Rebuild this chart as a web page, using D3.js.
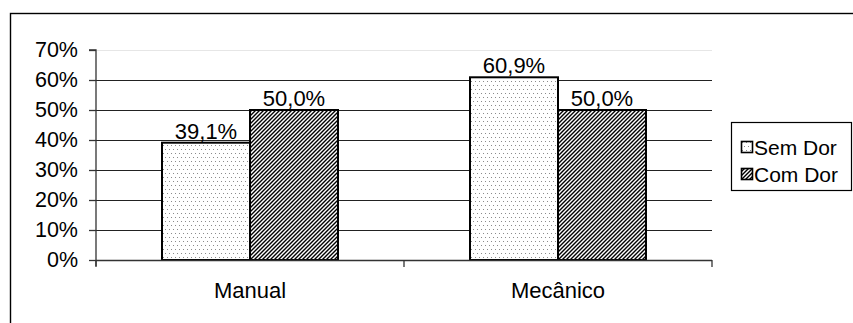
<!DOCTYPE html>
<html>
<head>
<meta charset="utf-8">
<script src="https://cdn.jsdelivr.net/npm/d3@7"></script>
<style>
  html, body { margin: 0; padding: 0; background: #fff; }
  svg { display: block; font-family: "Liberation Sans", Arial, sans-serif; }
</style>
</head>
<body>
<svg id="chart" width="853" height="323"></svg>
<script>
// Share of cases by method, split by pain outcome
const categories = ["Manual", "Mecânico"];
const seriesNames = ["Sem Dor", "Com Dor"];
const semDor = [39.1, 60.9];
const comDor = [50.0, 50.0];
const yTicks = [0, 10, 20, 30, 40, 50, 60, 70];

const seriesValues = [semDor, comDor];
const fmt = v => v.toFixed(1).replace(".", ",") + "%";

const svg = d3.select("#chart");
const defs = svg.append("defs");

// Dotted fill
const dots = defs.append("pattern")
  .attr("id", "pat-dots").attr("patternUnits", "userSpaceOnUse")
  .attr("width", 4).attr("height", 8);
dots.append("rect").attr("width", 4).attr("height", 8).attr("fill", "#fff");
dots.append("rect").attr("x", 1).attr("y", 1).attr("width", 1).attr("height", 1).attr("fill", "#8a8a8a");
dots.append("rect").attr("x", 3).attr("y", 5).attr("width", 1).attr("height", 1).attr("fill", "#8a8a8a");

// Diagonal hatch fill
const hatch = defs.append("pattern")
  .attr("id", "pat-hatch").attr("patternUnits", "userSpaceOnUse")
  .attr("width", 4).attr("height", 4);
hatch.append("rect").attr("width", 4).attr("height", 4).attr("fill", "#fff");
hatch.append("path")
  .attr("d", "M-1,1 l2,-2 M0,4 l4,-4 M3,5 l2,-2")
  .attr("stroke", "#000").attr("stroke-width", 1.4);

const fills = ["url(#pat-dots)", "url(#pat-hatch)"];

// Outer frame
svg.append("rect")
  .attr("x", 10.5).attr("y", 13.5).attr("width", 900).attr("height", 400)
  .attr("fill", "none").attr("stroke", "#000").attr("stroke-width", 1.4);

const plot = { left: 96, right: 712, top: 50, bottom: 260 };

const y = d3.scaleLinear().domain([0, 70]).range([plot.bottom, plot.top]);
const x0 = d3.scaleBand().domain(categories)
  .range([plot.left, plot.right])
  .paddingInner(0.4286).paddingOuter(0.2143);
const x1 = d3.scaleBand().domain(seriesNames).range([0, x0.bandwidth()]);

// Gridlines
svg.append("g").selectAll("line")
  .data(yTicks.filter(t => t > 0))
  .join("line")
  .attr("x1", plot.left).attr("x2", plot.right)
  .attr("y1", d => Math.round(y(d)) + 0.5).attr("y2", d => Math.round(y(d)) + 0.5)
  .attr("stroke", d => d === 70 ? "#e6e6e6" : "#222")
  .attr("stroke-width", 1.2);

// Bars
const groups = svg.append("g").selectAll("g")
  .data(categories)
  .join("g")
  .attr("transform", d => `translate(${x0(d)},0)`);

groups.selectAll("rect")
  .data((c, i) => seriesNames.map((s, k) => ({ s, k, v: seriesValues[k][i] })))
  .join("rect")
  .attr("x", d => x1(d.s))
  .attr("y", d => y(d.v))
  .attr("width", x1.bandwidth())
  .attr("height", d => y(0) - y(d.v))
  .attr("fill", d => fills[d.k])
  .attr("stroke", "#000").attr("stroke-width", 2);

groups.selectAll("text")
  .data((c, i) => seriesNames.map((s, k) => ({ s, k, v: seriesValues[k][i] })))
  .join("text")
  .attr("x", d => x1(d.s) + x1.bandwidth() / 2)
  .attr("y", d => y(d.v) - 4)
  .attr("text-anchor", "middle")
  .attr("font-size", 22).attr("fill", "#000")
  .text(d => fmt(d.v));

// Y axis
const yAxis = svg.append("g")
  .attr("transform", `translate(${plot.left},0)`)
  .call(d3.axisLeft(y).tickValues(yTicks).tickSize(7).tickPadding(11)
    .tickFormat(d => d + "%"));
yAxis.select(".domain").attr("stroke", "#333").attr("stroke-width", 1.3)
  .attr("d", `M-7,${y(70)}H0V${plot.bottom + 6}`);
yAxis.selectAll(".tick line").attr("stroke", "#333").attr("stroke-width", 1.3);
yAxis.selectAll(".tick text").attr("font-size", 21.5).attr("fill", "#000")
  .attr("font-family", "Liberation Sans, Arial, sans-serif");

// X axis
const xAxis = svg.append("g")
  .attr("transform", `translate(0,${plot.bottom})`);
xAxis.append("line")
  .attr("x1", plot.left).attr("x2", plot.right)
  .attr("y1", 0.5).attr("y2", 0.5)
  .attr("stroke", "#333").attr("stroke-width", 1.3);
const bounds = [plot.left, (plot.left + plot.right) / 2, plot.right];
xAxis.selectAll("line.tk").data(bounds).join("line").attr("class", "tk")
  .attr("x1", d => d).attr("x2", d => d).attr("y1", 0).attr("y2", 7)
  .attr("stroke", "#333").attr("stroke-width", 1.3);
xAxis.selectAll("text").data(categories).join("text")
  .attr("x", d => x0(d) + x0.bandwidth() / 2)
  .attr("y", 38)
  .attr("text-anchor", "middle")
  .attr("font-size", 22).attr("fill", "#000")
  .text(d => d);

// Legend
const legend = svg.append("g");
legend.append("rect")
  .attr("x", 731.5).attr("y", 122.5).attr("width", 120).attr("height", 68)
  .attr("fill", "#fff").attr("stroke", "#000").attr("stroke-width", 1.2);
const items = legend.selectAll("g.item").data(seriesNames).join("g")
  .attr("class", "item")
  .attr("transform", (d, i) => `translate(741,${141 + i * 27})`);
items.append("rect")
  .attr("x", 0.5).attr("y", 0.5).attr("width", 11).attr("height", 11)
  .attr("fill", (d, i) => fills[i])
  .attr("stroke", "#000").attr("stroke-width", 1.6);
items.append("text")
  .attr("x", 13).attr("y", 14)
  .attr("font-size", 21).attr("fill", "#000")
  .text(d => d);
</script>
</body>
</html>
